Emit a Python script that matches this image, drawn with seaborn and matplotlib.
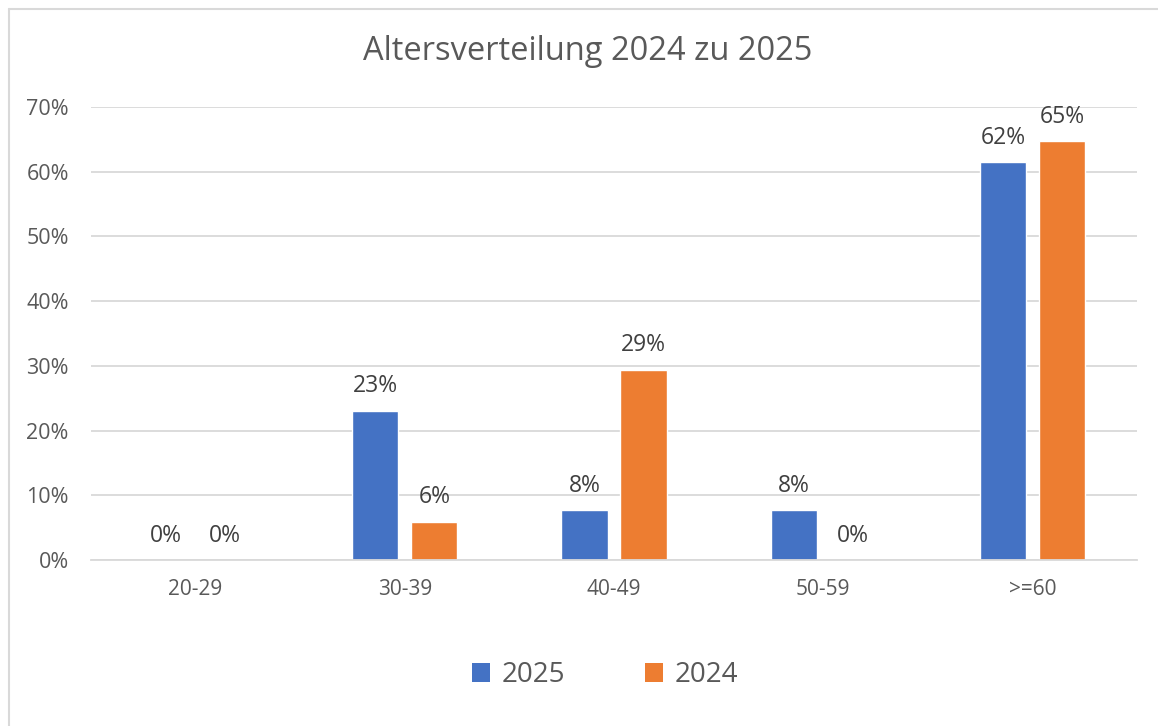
import matplotlib
matplotlib.use("Agg")
import matplotlib.pyplot as plt
import matplotlib.lines as mlines
import numpy as np
import pandas as pd
import seaborn as sns
from matplotlib.patches import Patch
from matplotlib.ticker import PercentFormatter

TEXT_COLOR = "#595959"
GRID_COLOR = "#d9d9d9"
COLORS = {"2025": "#4472c4", "2024": "#ed7d31"}

age_groups = ["20-29", "30-39", "40-49", "50-59", ">=60"]
share_2025 = [0.0, 0.231, 0.077, 0.077, 0.615]
share_2024 = [0.0, 0.059, 0.294, 0.0, 0.647]
years = ["2025", "2024"]

df = pd.DataFrame(
    {
        "group": age_groups * 2,
        "share": share_2025 + share_2024,
        "year": ["2025"] * len(age_groups) + ["2024"] * len(age_groups),
    }
)

sns.set_theme(style="white")
plt.rcParams["font.family"] = ["Open Sans", "DejaVu Sans"]

fig = plt.figure(figsize=(11.58, 7.26), dpi=100)
ax = fig.add_axes([91 / 1158, 1 - 560 / 726, (1137 - 91) / 1158, (560 - 107) / 726])

sns.barplot(
    data=df,
    x="group",
    y="share",
    hue="year",
    hue_order=years,
    palette=COLORS,
    width=0.564,
    gap=0.22,
    saturation=1,
    legend=False,
    ax=ax,
)

for container in ax.containers:
    ax.bar_label(
        container,
        labels=[f"{v * 100:.0f}%" for v in container.datavalues],
        padding=9,
        fontsize=16.5,
        color="#404040",
    )

ax.set_ylim(0, 0.7)
ax.set_xlim(-0.5, len(age_groups) - 0.5)
ax.set_yticks(np.arange(0, 0.71, 0.1))
ax.yaxis.set_major_formatter(PercentFormatter(1.0, decimals=0))
ax.grid(True, axis="y", color=GRID_COLOR, linewidth=1.3)
ax.set_axisbelow(True)
for side in ["top", "right", "left"]:
    ax.spines[side].set_visible(False)
ax.spines["bottom"].set_color(GRID_COLOR)
ax.spines["bottom"].set_linewidth(1.3)
ax.tick_params(axis="y", length=0, labelsize=15.5, labelcolor=TEXT_COLOR, pad=16)
ax.tick_params(axis="x", length=0, labelsize=15, labelcolor=TEXT_COLOR, pad=14)
ax.set_xlabel("")
ax.set_ylabel("")

fig.text(588 / 1158, 1 - 52 / 726, "Altersverteilung 2024 zu 2025",
         ha="center", va="center", fontsize=23.5, color=TEXT_COLOR)

handles = [Patch(facecolor=COLORS[y], edgecolor="none") for y in years]
fig.legend(
    handles,
    years,
    loc="center",
    bbox_to_anchor=(605 / 1158, 1 - 675 / 726),
    ncol=2,
    frameon=False,
    fontsize=20,
    labelcolor=TEXT_COLOR,
    handlelength=0.65,
    handleheight=0.65,
    handletextpad=0.4,
    columnspacing=2.9,
)

# chart frame (only top and left edges are inside the picture)
fig.add_artist(mlines.Line2D([9 / 1158, 1.0], [1 - 9 / 726] * 2, color=GRID_COLOR, linewidth=1.5))
fig.add_artist(mlines.Line2D([9 / 1158] * 2, [0.0, 1 - 9 / 726], color=GRID_COLOR, linewidth=1.5))

fig.savefig("out.png", dpi=100)
